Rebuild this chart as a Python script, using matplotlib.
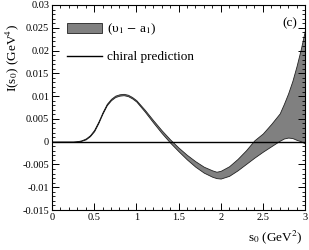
import matplotlib
matplotlib.use("Agg")
import matplotlib.pyplot as plt
from matplotlib.ticker import MultipleLocator
from matplotlib.patches import Patch
from matplotlib.lines import Line2D

plt.rcParams['font.family'] = ['Liberation Serif', 'DejaVu Serif']
plt.rcParams['mathtext.fontset'] = 'stix'

# band of I(s0) for (v1 - a1)
s0 = [0.0, 0.25, 0.3, 0.35, 0.4, 0.45, 0.5, 0.55, 0.6, 0.65, 0.7, 0.75, 0.8,
      0.85, 0.9, 0.95, 1.0, 1.1, 1.2, 1.3, 1.4, 1.5, 1.6, 1.7, 1.8, 1.9, 1.95,
      2.0, 2.1, 2.2, 2.3, 2.4, 2.5, 2.6, 2.7, 2.75, 2.8, 2.85, 2.9, 2.95, 3.0]
upper = [0.0, 0.0, 0.0001, 0.0003, 0.0007, 0.0014, 0.0026, 0.0044, 0.0065,
         0.0083, 0.0094, 0.0101, 0.0104, 0.0105, 0.0103, 0.0098, 0.0091,
         0.0070, 0.0047, 0.0025, 0.0005, -0.0013, -0.0029, -0.0043, -0.0055,
         -0.0063, -0.0066, -0.0064, -0.0054, -0.0038, -0.0019, 0.0003,
         0.0018, 0.0039, 0.0062, 0.0083, 0.0106, 0.0133, 0.0166, 0.0203, 0.0245]
lower = [0.0, 0.0, 0.0, 0.0002, 0.0005, 0.0012, 0.0023, 0.0041, 0.0062,
         0.0080, 0.0091, 0.0098, 0.0101, 0.0102, 0.0100, 0.0095, 0.0088,
         0.0066, 0.0042, 0.0019, -0.0002, -0.0021, -0.0039, -0.0055, -0.0068,
         -0.0077, -0.0080, -0.0081, -0.0075, -0.0063, -0.0049, -0.0035,
         -0.0022, -0.0010, 0.0002, 0.0007, 0.0009, 0.0008, 0.0004, 0.0001, -0.0004]
chiral_x = [0.0, 3.0]
chiral_y = [0.0, 0.0]

fig = plt.figure(figsize=(3.09, 2.5), dpi=100)
ax = fig.add_axes([52/309, 40/250, 253/309, 205/250])

ax.fill_between(s0, lower, upper, facecolor='#808080', edgecolor='#222222', linewidth=0.6)
ax.plot(chiral_x, chiral_y, color='black', linewidth=1.0)

ax.set_xlim(0, 3)
ax.set_ylim(-0.015, 0.03)
ax.xaxis.set_minor_locator(MultipleLocator(0.1))
ax.yaxis.set_minor_locator(MultipleLocator(0.001))
ax.set_xticks([0, 0.5, 1, 1.5, 2, 2.5, 3])
ax.set_xticklabels(['0', '0.5', '1', '1.5', '2', '2.5', '3'])
ax.set_yticks([-0.015, -0.01, -0.005, 0, 0.005, 0.01, 0.015, 0.02, 0.025, 0.03])
ax.set_yticklabels(['-0.015', '-0.01', '-0.005', '0', '0.005', '0.01',
                    '0.015', '0.02', '0.025', '0.03'])
ax.tick_params(which='both', direction='in', top=True, right=True,
               labelsize=7.5, pad=2)
ax.tick_params(which='major', length=5, width=0.7)
ax.tick_params(which='minor', length=2.5, width=0.6)
for sp in ax.spines.values():
    sp.set_linewidth(0.8)

ax.set_ylabel(r'I(s$_0$) (GeV$^4$)', fontsize=9.5)
ax.yaxis.set_label_coords(-0.158, 0.74)
ax.yaxis.label.set_va('center')
ax.set_xlabel(r's$_0$ (GeV$^2$)', fontsize=9.5)
ax.xaxis.set_label_coords(0.99, -0.135)
ax.xaxis.label.set_ha('right')
ax.xaxis.label.set_va('center')

ax.text(0.968, 0.912, '(c)', transform=ax.transAxes, ha='right', va='center', fontsize=9.5)

handles = [Patch(facecolor='#808080', edgecolor='#222222', linewidth=0.6),
           Line2D([], [], color='black', linewidth=1.0)]
ax.legend(handles, [r'(υ$_1$ $-$ a$_1$)', 'chiral prediction'], loc='upper left',
          bbox_to_anchor=(0.04, 0.945), frameon=False, fontsize=9.5,
          handlelength=2.6, handleheight=0.8, handletextpad=0.4,
          labelspacing=1.05, borderaxespad=0)

fig.savefig('out.png', dpi=100)
